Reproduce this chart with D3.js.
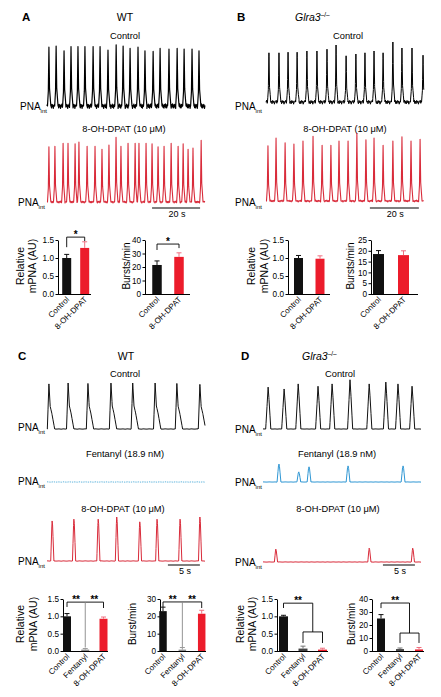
<!DOCTYPE html>
<html>
<head>
<meta charset="utf-8">
<script src="https://cdn.jsdelivr.net/npm/d3@7/dist/d3.min.js"></script>
<style>
html,body{margin:0;padding:0;background:#fff;}
svg{display:block;}
text{font-family:"Liberation Sans",Arial,Helvetica,sans-serif;}
</style>
</head>
<body>
<svg id="fig" width="441" height="697"></svg>
<script>
// ================= DATA =================
const cats2 = ["Control", "8-OH-DPAT"];
const cats3 = ["Control", "Fentanyl", "8-OH-DPAT"];

// bar values (mean, SEM)
const aMpnaMean  = [1.00, 1.28];  const aMpnaErr  = [0.10, 0.17];
const aBurstMean = [21.5, 27.5];  const aBurstErr = [3.0, 3.0];
const bMpnaMean  = [1.00, 0.98];  const bMpnaErr  = [0.07, 0.08];
const bBurstMean = [18.5, 18.0];  const bBurstErr = [1.6, 2.0];
const cMpnaMean  = [1.00, 0.04, 0.93]; const cMpnaErr  = [0.08, 0.03, 0.05];
const cBurstMean = [23.0, 0.8, 21.5];  const cBurstErr = [2.3, 1.2, 2.0];
const dMpnaMean  = [1.00, 0.07, 0.04]; const dMpnaErr  = [0.03, 0.07, 0.04];
const dBurstMean = [25.0, 1.5, 1.2];   const dBurstErr = [3.0, 0.8, 1.5];

// tick values
const ticksMpna   = [0, 0.5, 1.0, 1.5];
const ticksBurstA = [0, 10, 20, 30, 40];
const ticksBurstB = [0, 5, 10, 15, 20, 25];
const ticksBurstC = [0, 10, 20, 30];
const ticksBurstD = [0, 10, 20, 30, 40];

// PNA_int traces: burst peak times (s) and relative amplitudes
const aCtrlTimes = [0.8,3.8,7.1,10.0,12.9,15.8,19.2,22.1,25.4,28.8,31.7,34.6,37.9,40.8,44.2,47.1,50.8,54.2,57.1,60.4,63.3];
const aCtrlAmps  = [0.98,1.0,0.92,0.99,0.99,0.99,0.99,0.99,0.93,1.02,1.0,0.96,0.98,0.92,0.91,0.96,0.95,0.96,0.95,0.95,0.92];
const aRedTimes  = [0.8,3.3,6.7,8.75,11.7,13.3,16.7,20.0,22.9,25.8,28.75,30.8,33.75,36.7,38.3,41.25,43.75,46.25,48.75,51.7,54.6,56.7,58.75,60.8,64.2];
const aRedAmps   = [0.92,0.93,0.98,0.98,0.97,1.0,0.93,0.93,0.88,0.95,1.08,0.93,0.98,0.98,0.98,0.98,0.97,0.92,0.93,0.98,0.93,0.97,0.88,0.9,1.03];
const bCtrlTimes = [1.2,5.3,9.0,12.7,16.7,20.8,24.9,28.6,32.7,36.7,40.4,44.1,47.8,51.8,55.5,59.6,64.1];
const bCtrlAmps  = [0.82,0.82,0.83,0.83,0.85,0.85,0.88,0.95,0.77,0.8,0.82,0.85,0.82,1.0,0.9,0.9,0.78];
const bRedTimes  = [0.8,4.1,7.8,11.4,15.1,19.2,22.9,26.5,29.8,33.5,37.1,40.8,44.1,47.8,51.8,55.5,59.2,62.9];
const bRedAmps   = [0.92,1.05,0.97,0.95,1.0,1.08,0.93,0.93,1.0,1.0,1.13,1.02,1.05,0.93,1.0,1.07,1.0,1.03];
const cCtrlTimes = [0.3,3.3,6.4,10.0,13.4,16.9,20.3,23.9];
const cCtrlAmps  = [0.98,1.0,0.99,1.0,1.0,1.0,0.99,0.97];
const cFentTimes = [];
const cFentAmps  = [];
const cRedTimes  = [0.8,4.2,8.0,10.9,14.5,17.2,20.8,23.9];
const cRedAmps   = [0.91,0.95,0.95,1.0,0.89,0.95,0.95,1.0];
const dCtrlTimes = [0.8,3.3,5.5,8.6,10.8,13.6,16.6,19.2,21.1,23.3];
const dCtrlAmps  = [0.91,0.87,0.98,0.93,0.98,1.07,0.98,1.02,0.98,0.93];
const dFentTimes = [2.5,5.6,7.2,13.3,21.9];
const dFentAmps  = [0.39,0.22,0.33,0.35,0.35];
const dRedTimes  = [2.0,16.6,23.4];
const dRedAmps   = [0.28,0.3,0.3];

// burst waveform templates: [time offset (s), relative level]
const tplSlow  = [[-0.6,0],[-0.25,0.25],[0,1],[0.25,0.3],[0.8,0]];
const tplCctrl = [[-0.25,0],[0,1],[0.2,0.5],[0.45,0.35],[0.9,0]];
const tplDctrl = [[-0.38,0],[-0.15,0.6],[0,1],[0.12,0.75],[0.42,0]];
const tplSpike = [[-0.22,0],[-0.05,0.85],[0,1],[0.07,0.9],[0.28,0]];
const tplBlue  = [[-0.3,0],[-0.08,0.9],[0,1],[0.08,0.85],[0.3,0]];
// baseline noise pattern (relative)
const baselineNoise = [0.1,-0.8,0.6,-0.3,0.9,-0.6,0.2,-0.9,0.7,-0.4,0.8,-0.7,0.3,-0.5,1.0,-0.2];

// ================= DRAW =================
const FONT = '"Liberation Sans", Arial, Helvetica, sans-serif';
const svg = d3.select("#fig");
const RED_TRACE = "#d92b3a", RED_BAR = "#ec1c2b", RED_ERR = "#f07080";

function text(x, y, s, o = {}) {
  return svg.append("text").attr("x", x).attr("y", y).text(s)
    .attr("font-size", o.size || 9.3).attr("text-anchor", o.anchor || "middle")
    .attr("font-weight", o.weight || "normal").attr("fill", o.fill || "#000")
    .attr("font-family", FONT);
}
function geneTitle(x, y) {
  const t = svg.append("text").attr("x", x).attr("y", y).attr("font-size", 10.5).attr("font-family", FONT);
  t.append("tspan").attr("font-style", "italic").text("Glra3");
  t.append("tspan").attr("font-size", 6.5).attr("dy", -4).text("–/–");
}
function pnaLabel(x, y) {
  const t = svg.append("text").attr("x", x).attr("y", y).attr("font-size", 10).attr("font-family", FONT);
  t.append("tspan").text("PNA");
  t.append("tspan").attr("font-size", 6).attr("dy", 3).text("int");
}

function levelAt(t, times, amps, tpl) {
  let v = 0;
  for (let i = 0; i < times.length; i++) {
    const dt = t - times[i];
    if (dt < tpl[0][0] || dt > tpl[tpl.length - 1][0]) continue;
    for (let k = 0; k < tpl.length - 1; k++) {
      const a = tpl[k], b = tpl[k + 1];
      if (dt >= a[0] && dt <= b[0]) {
        const f = (dt - a[0]) / ((b[0] - a[0]) || 1);
        v = Math.max(v, amps[i] * (a[1] + f * (b[1] - a[1])));
        break;
      }
    }
  }
  return v;
}

function drawTrace(d) {
  const x = d3.scaleLinear().domain([0, d.dur]).range([d.x0, d.x1]);
  const y = d3.scaleLinear().domain([0, 1]).range([d.base, d.base - d.unit]);
  const dt = d.stepPx * d.dur / (d.x1 - d.x0);
  const samples = [];
  const n = Math.floor(d.dur / dt);
  for (let i = 0; i <= n; i++) samples.push({ t: i * dt, nz: baselineNoise[i % baselineNoise.length] * d.noise });
  d.times.forEach(p => d.tpl.forEach(v => { const t = p + v[0]; if (t >= 0 && t <= d.dur) samples.push({ t: t, nz: 0 }); }));
  samples.sort((a, b) => a.t - b.t);
  const line = d3.line()
    .x(s => x(s.t))
    .y(s => { const v = levelAt(s.t, d.times, d.amps, d.tpl); return y(v) + (v > 0.03 ? 0 : s.nz); });
  const p = svg.append("path").attr("d", line(samples)).attr("fill", "none")
    .attr("stroke", d.color).attr("stroke-width", d.width).attr("stroke-linejoin", "round");
  if (d.dash) p.attr("stroke-dasharray", d.dash);
  if (d.bar) {
    svg.append("line").attr("x1", x(d.bar[0])).attr("x2", x(d.bar[0] + d.bar[1]))
      .attr("y1", d.barY).attr("y2", d.barY).attr("stroke", "#000").attr("stroke-width", 1.2);
    text((x(d.bar[0]) + x(d.bar[0] + d.bar[1])) / 2 + 1, d.barY + 9, d.bar[1] + " s", { size: 9 });
  }
}

function drawBars(c) {
  const g = svg.append("g");
  const y = d3.scaleLinear().domain([0, c.max]).range([c.y0, c.y1]);
  const x = d3.scalePoint().domain(c.cats).range([c.c0, c.c1]);
  const xi = d3.scaleLinear().domain([0, c.cats.length - 1]).range([c.c0, c.c1]);
  const ax = g.append("g").attr("transform", `translate(${c.ax},0)`)
    .call(d3.axisLeft(y).tickValues(c.ticks).tickSize(2.5).tickSizeOuter(0).tickPadding(1.5).tickFormat(c.fmt));
  ax.attr("font-family", FONT).attr("font-size", 8.2);
  ax.select(".domain").attr("stroke", "#000");
  ax.selectAll(".tick line").attr("stroke", "#000");
  ax.selectAll(".tick text").attr("fill", "#000");
  g.append("line").attr("x1", c.ax).attr("x2", c.axEnd).attr("y1", c.y0 + 0.5).attr("y2", c.y0 + 0.5).attr("stroke", "#000");
  // bars
  g.selectAll("rect.bar").data(c.mean).join("rect").attr("class", "bar")
    .attr("x", (d, i) => x(c.cats[i]) - c.bw / 2).attr("y", d => y(d))
    .attr("width", c.bw).attr("height", d => c.y0 - y(d)).attr("fill", (d, i) => c.colors[i]);
  // error bars
  c.mean.forEach((m, i) => {
    const cx = x(c.cats[i]);
    g.append("line").attr("x1", cx).attr("x2", cx).attr("y1", y(m)).attr("y2", y(m + c.err[i])).attr("stroke", c.errColors[i]);
    g.append("line").attr("x1", cx - 2.5).attr("x2", cx + 2.5).attr("y1", y(m + c.err[i])).attr("y2", y(m + c.err[i])).attr("stroke", c.errColors[i]);
  });
  // category labels
  c.cats.forEach((cat, i) => {
    const cx = x(cat) + 3, cy = c.y0 + 6;
    g.append("text").attr("transform", `translate(${cx},${cy}) rotate(-45)`).attr("text-anchor", "end")
      .attr("font-size", 8).attr("font-family", FONT).text(cat);
  });
  // axis titles
  c.titles.forEach((t, k) => {
    g.append("text").attr("transform", `translate(${c.tx[k]},${c.ty}) rotate(-90)`)
      .attr("text-anchor", "middle").attr("dominant-baseline", "central")
      .attr("font-size", c.tsize || 10.5).attr("font-family", FONT).text(t);
  });
  // significance brackets
  (c.brackets || []).forEach(b => {
    const l = d3.line().x(p => xi(p[0])).y(p => y(p[1]));
    g.append("path").attr("d", l(b.pts)).attr("fill", "none").attr("stroke", b.color || "#000").attr("stroke-width", 0.9);
  });
  (c.stars || []).forEach(s => {
    g.append("text").attr("x", xi(s[0])).attr("y", y(s[1]) + 1).attr("text-anchor", "middle")
      .attr("font-size", 10).attr("font-weight", "bold").attr("font-family", FONT).text(s[2]);
  });
}

// ---- Panel headings ----
text(22, 21, "A", { size: 11.5, weight: "bold", anchor: "start" });
text(125, 21, "WT", { size: 10.5 });
text(125, 39, "Control");
text(124, 132, "8-OH-DPAT (10 μM)");
text(237, 21, "B", { size: 11.5, weight: "bold", anchor: "start" });
geneTitle(295, 21);
text(348, 39, "Control");
text(345, 132, "8-OH-DPAT (10 μM)");
text(18, 360, "C", { size: 11.5, weight: "bold", anchor: "start" });
text(126, 360, "WT", { size: 10.5 });
text(125, 377, "Control");
text(125, 457, "Fentanyl (18.9 nM)");
text(123, 512, "8-OH-DPAT (10 μM)");
text(241, 360, "D", { size: 11.5, weight: "bold", anchor: "start" });
geneTitle(302, 360);
text(340, 377, "Control");
text(337, 457, "Fentanyl (18.9 nM)");
text(338, 512, "8-OH-DPAT (10 μM)");

// ---- Traces ----
const traces = [
  { times: aCtrlTimes, amps: aCtrlAmps, tpl: tplSlow, x0: 47, x1: 205, dur: 65.8, base: 106, unit: 60, color: "#000", width: 1.2, noise: 2.4, stepPx: 0.45, label: [20, 110] },
  { times: aRedTimes, amps: aRedAmps, tpl: tplSlow, x0: 47, x1: 205, dur: 65.8, base: 202, unit: 60, color: RED_TRACE, width: 1.1, noise: 1.0, stepPx: 0.6, label: [18, 206], bar: [43.75, 20], barY: 208 },
  { times: bCtrlTimes, amps: bCtrlAmps, tpl: tplSlow, x0: 266, x1: 424, dur: 64.5, base: 102, unit: 60, color: "#000", width: 1, noise: 2.2, stepPx: 0.6, label: [235, 110] },
  { times: bRedTimes, amps: bRedAmps, tpl: tplSlow, x0: 266, x1: 424, dur: 64.5, base: 201, unit: 60, color: RED_TRACE, width: 1.1, noise: 0.9, stepPx: 0.7, label: [235, 206], bar: [42.4, 20], barY: 208 },
  { times: cCtrlTimes, amps: cCtrlAmps, tpl: tplCctrl, x0: 47, x1: 205, dur: 24.7, base: 429, unit: 46, color: "#111", width: 1, noise: 0.3, stepPx: 1, label: [18, 431] },
  { times: cFentTimes, amps: cFentAmps, tpl: tplSpike, x0: 47, x1: 205, dur: 24.7, base: 482, unit: 46, color: "#62b6de", width: 1, noise: 0.4, stepPx: 1, dash: "1.5,1", label: [18, 485] },
  { times: cRedTimes, amps: cRedAmps, tpl: tplSpike, x0: 47, x1: 205, dur: 24.7, base: 561, unit: 44, color: RED_TRACE, width: 1, noise: 0.3, stepPx: 1, label: [18, 565], bar: [18.9, 5], barY: 565 },
  { times: dCtrlTimes, amps: dCtrlAmps, tpl: tplDctrl, x0: 263, x1: 421, dur: 24.7, base: 429, unit: 46, color: "#111", width: 1, noise: 0.2, stepPx: 1, label: [235, 433] },
  { times: dFentTimes, amps: dFentAmps, tpl: tplBlue, x0: 263, x1: 421, dur: 24.7, base: 482, unit: 46, color: "#2f97d4", width: 1, noise: 0.2, stepPx: 1, label: [235, 486] },
  { times: dRedTimes, amps: dRedAmps, tpl: tplSpike, x0: 263, x1: 421, dur: 24.7, base: 562, unit: 46, color: RED_TRACE, width: 1, noise: 0.25, stepPx: 1, label: [235, 566], bar: [18.75, 5], barY: 565 }
];
traces.forEach(t => { drawTrace(t); pnaLabel(t.label[0], t.label[1]); });

// ---- Bar charts ----
const f1 = d3.format(".1f"), f0 = d3.format("d");
const col2 = ["#111", RED_BAR], err2 = ["#111", RED_ERR];
drawBars({ cats: cats2, mean: aMpnaMean, err: aMpnaErr, max: 1.5, ticks: ticksMpna, fmt: f1,
  y0: 294, y1: 240, ax: 58, axEnd: 91, c0: 66.7, c1: 84.7, bw: 9, colors: col2, errColors: err2,
  titles: ["Relative", "mPNA (AU)"], tx: [20, 32], ty: 266,
  brackets: [{ pts: [[0, 1.3], [0, 1.58], [1, 1.58], [1, 1.47]] }], stars: [[0.5, 1.58, "*"]] });
drawBars({ cats: cats2, mean: aBurstMean, err: aBurstErr, max: 40, ticks: ticksBurstA, fmt: f0,
  y0: 294, y1: 240, ax: 145, axEnd: 190, c0: 157, c1: 179, bw: 9.5, colors: col2, errColors: err2,
  titles: ["Bursts/min"], tx: [126], ty: 266, tsize: 10,
  brackets: [{ pts: [[0, 32.6], [0, 37], [1, 37], [1, 34]] }], stars: [[0.5, 37, "*"]] });
drawBars({ cats: cats2, mean: bMpnaMean, err: bMpnaErr, max: 1.5, ticks: ticksMpna, fmt: f1,
  y0: 294, y1: 240, ax: 288, axEnd: 330, c0: 298.5, c1: 320, bw: 9, colors: col2, errColors: err2,
  titles: ["Relative", "mPNA (AU)"], tx: [251, 264], ty: 266 });
drawBars({ cats: cats2, mean: bBurstMean, err: bBurstErr, max: 25, ticks: ticksBurstB, fmt: f0,
  y0: 294, y1: 240, ax: 371, axEnd: 418, c0: 378.5, c1: 403.5, bw: 11, colors: col2, errColors: err2,
  titles: ["Bursts/min"], tx: [350.5], ty: 266, tsize: 10 });

const col3c = ["#111", "#8a8a8a", RED_BAR], err3c = ["#111", "#999", RED_ERR];
const col3d = ["#111", "#444", RED_BAR], err3d = ["#111", "#777", RED_ERR];
drawBars({ cats: cats3, mean: cMpnaMean, err: cMpnaErr, max: 1.5, ticks: ticksMpna, fmt: f1,
  y0: 651, y1: 599, ax: 63, axEnd: 108, c0: 67, c1: 103.5, bw: 8, colors: col3c, errColors: err3c,
  titles: ["Relative", "mPNA (AU)"], tx: [20, 32.5], ty: 624,
  brackets: [{ pts: [[0, 1.27], [0, 1.41], [2, 1.41], [2, 1.24]] }, { pts: [[1, 1.41], [1, 0.1]], color: "#888" }],
  stars: [[0.5, 1.41, "**"], [1.5, 1.41, "**"]] });
drawBars({ cats: cats3, mean: cBurstMean, err: cBurstErr, max: 30, ticks: ticksBurstC, fmt: f0,
  y0: 651, y1: 599, ax: 160, axEnd: 206, c0: 163, c1: 201.7, bw: 7.5, colors: col3c, errColors: err3c,
  titles: ["Burst/min"], tx: [132], ty: 624, tsize: 10,
  brackets: [{ pts: [[0, 25.4], [0, 28.3], [2, 28.3], [2, 24.8]] }, { pts: [[1, 28.3], [1, 2.2]], color: "#888" }],
  stars: [[0.5, 28.3, "**"], [1.5, 28.3, "**"]] });
drawBars({ cats: cats3, mean: dMpnaMean, err: dMpnaErr, max: 1.5, ticks: ticksMpna, fmt: f1,
  y0: 651, y1: 599, ax: 277, axEnd: 328, c0: 283.5, c1: 322.5, bw: 9, colors: col3d, errColors: err3d,
  titles: ["Relative", "mPNA (AU)"], tx: [240, 252], ty: 624,
  brackets: [{ pts: [[0, 1.24], [0, 1.38], [1.5, 1.38], [1.5, 0.55]] }, { pts: [[1, 0.23], [1, 0.55], [2, 0.55], [2, 0.23]] }],
  stars: [[0.75, 1.38, "**"]] });
drawBars({ cats: cats3, mean: dBurstMean, err: dBurstErr, max: 40, ticks: ticksBurstD, fmt: f0,
  y0: 651, y1: 599, ax: 372, axEnd: 424, c0: 381, c1: 419, bw: 8, colors: col3d, errColors: err3d,
  titles: ["Burst/min"], tx: [351], ty: 624, tsize: 10,
  brackets: [{ pts: [[0, 33], [0, 36.9], [1.5, 36.9], [1.5, 13.8]] }, { pts: [[1, 6.2], [1, 13.8], [2, 13.8], [2, 6.2]] }],
  stars: [[0.75, 36.9, "**"]] });
</script>
</body>
</html>
